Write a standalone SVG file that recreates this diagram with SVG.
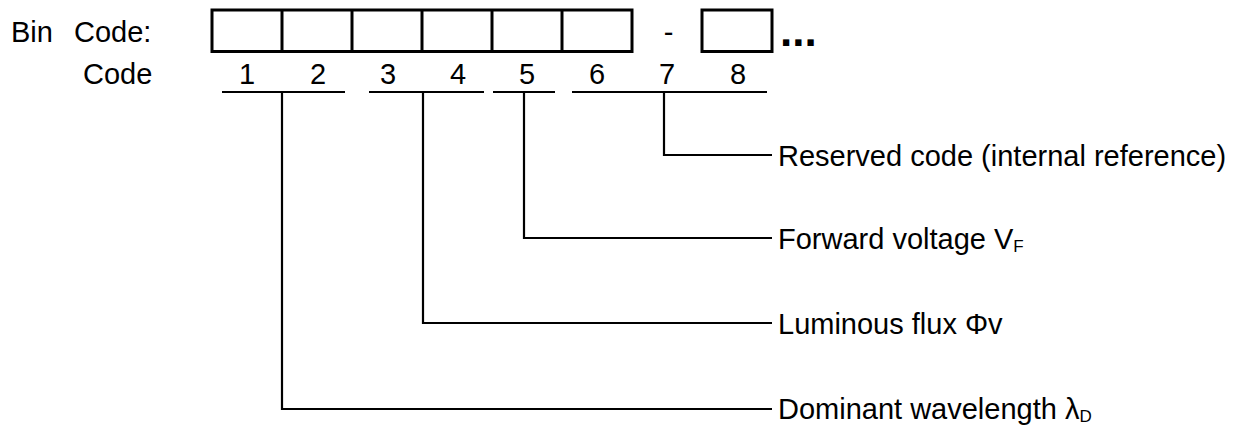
<svg xmlns="http://www.w3.org/2000/svg" width="1239" height="426" viewBox="0 0 1239 426">
<style>
text{font-family:"Liberation Sans",Arial,sans-serif;font-size:29px;fill:#000}
.box{fill:none;stroke:#000;stroke-width:3}
.ul{stroke:#000;stroke-width:2;fill:none}
.conn{stroke:#000;stroke-width:2.2;fill:none}
.sub{font-size:17px}
.dig{text-anchor:middle}
</style>
<rect width="1239" height="426" fill="#fff"/>
<g id="header">
<text x="11" y="41.5">Bin</text>
<text x="74" y="41.5">Code:</text>
<text x="83" y="83.5">Code</text>
</g>
<g id="code-boxes">
<rect class="box" x="212" y="10" width="420" height="41.5"/>
<line class="box" x1="282" y1="10" x2="282" y2="51.5"/>
<line class="box" x1="352" y1="10" x2="352" y2="51.5"/>
<line class="box" x1="422" y1="10" x2="422" y2="51.5"/>
<line class="box" x1="492" y1="10" x2="492" y2="51.5"/>
<line class="box" x1="562" y1="10" x2="562" y2="51.5"/>
<text x="668.5" y="41.5" text-anchor="middle">-</text>
<rect class="box" x="702" y="10" width="70" height="41.5"/>
<text x="780" y="45.5" style="font-size:44px;font-weight:bold">...</text>
</g>
<g id="digits">
<text class="dig" x="247" y="83.5">1</text>
<text class="dig" x="318" y="83.5">2</text>
<text class="dig" x="388" y="83.5">3</text>
<text class="dig" x="458" y="83.5">4</text>
<text class="dig" x="527" y="83.5">5</text>
<text class="dig" x="597" y="83.5">6</text>
<text class="dig" x="667" y="83.5">7</text>
<text class="dig" x="738" y="83.5">8</text>
</g>
<g id="underlines">
<line class="ul" x1="222" y1="92" x2="345" y2="92"/>
<line class="ul" x1="369" y1="92" x2="484" y2="92"/>
<line class="ul" x1="493" y1="92" x2="555" y2="92"/>
<line class="ul" x1="572" y1="92" x2="767" y2="92"/>
</g>
<g id="connectors">
<polyline class="conn" points="664,92 664,155 772,155"/>
<polyline class="conn" points="524,92 524,238 772,238"/>
<polyline class="conn" points="423,92 423,323 772,323"/>
<polyline class="conn" points="282,92 282,409 772,409"/>
</g>
<g id="label-reserved"><text x="778" y="166">Reserved code (internal reference)</text></g>
<g id="label-vf"><text x="778" y="249">Forward voltage V<tspan class="sub" dy="3">F</tspan></text></g>
<g id="label-flux"><text x="778" y="334">Luminous flux Φv</text></g>
<g id="label-wavelength"><text x="778" y="419">Dominant wavelength λ<tspan class="sub" dy="3">D</tspan></text></g>
</svg>
